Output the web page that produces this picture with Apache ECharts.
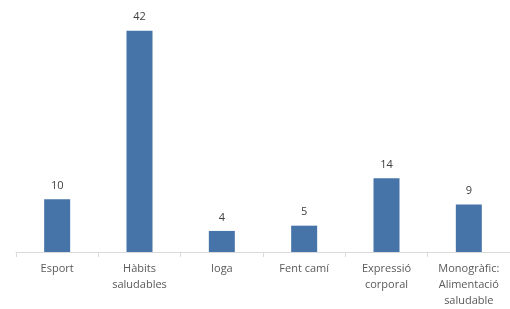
<!DOCTYPE html>
<html>
<head>
<meta charset="utf-8">
<script src="https://cdn.jsdelivr.net/npm/echarts@6/dist/echarts.min.js"></script>
<style>
  html, body { margin: 0; padding: 0; background: #fff; }
  #chart { width: 510px; height: 309px; }
</style>
</head>
<body>
<div id="chart"></div>
<script>
// activitats
const categories = ["Esport", "Hàbits\nsaludables", "Ioga", "Fent camí", "Expressió\ncorporal", "Monogràfic:\nAlimentació\nsaludable"];
const values = [10, 42, 4, 5, 14, 9];

const myChart = echarts.init(document.getElementById("chart"));
myChart.setOption({
  animation: false,
  grid: { left: 16, top: 15, width: 500, bottom: 57, containLabel: false },
  xAxis: {
    type: "category",
    data: categories,
    axisLine: { lineStyle: { color: "#d9d9d9" } },
    axisTick: { show: true, length: 5, lineStyle: { color: "#d9d9d9" } },
    axisLabel: {
      interval: 0,
      margin: 9,
      color: "#595959",
      fontSize: 11,
      lineHeight: 16,
      fontFamily: "Open Sans"
    }
  },
  yAxis: {
    type: "value",
    min: 0,
    max: 45,
    show: false,
    splitLine: { show: false }
  },
  series: [
    {
      type: "bar",
      data: values,
      barWidth: 26,
      itemStyle: { color: "#4674a9" },
      label: {
        show: true,
        position: "top",
        distance: 8,
        color: "#404040",
        fontSize: 11,
        fontFamily: "Open Sans"
      }
    }
  ]
});
</script>
</body>
</html>
